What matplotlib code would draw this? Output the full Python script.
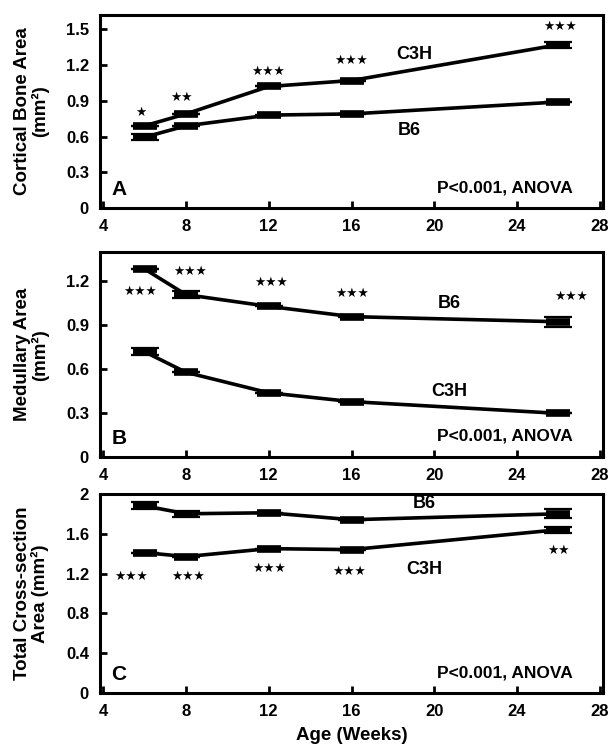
import numpy as np
import matplotlib.pyplot as plt

plt.rcParams['font.family'] = ['Liberation Sans', 'DejaVu Sans']
plt.rcParams['font.weight'] = 'bold'

weeks = [6, 8, 12, 16, 26]

# panel A - cortical bone area
a_c3h = [0.69, 0.79, 1.02, 1.07, 1.37]
a_c3h_err = [0.0, 0.0, 0.0, 0.0, 0.027]
a_b6 = [0.595, 0.69, 0.78, 0.79, 0.89]
a_b6_err = [0.027, 0.0, 0.0, 0.0, 0.0]
a_stars = ['★', '★★', '★★★', '★★★', '★★★']
a_star_x = [5.8, 7.8, 11.95, 16.0, 26.1]
a_star_y = [0.80, 0.93, 1.15, 1.24, 1.52]

# panel B - medullary area
b_b6 = [1.285, 1.11, 1.03, 0.96, 0.925]
b_b6_err = [0.0, 0.025, 0.0, 0.0, 0.035]
b_c3h = [0.72, 0.58, 0.44, 0.38, 0.30]
b_c3h_err = [0.025, 0.0, 0.0, 0.0, 0.0]
b_stars = ['★★★'] * 5
b_star_x = [5.8, 8.2, 12.1, 16.05, 26.6]
b_star_y = [1.13, 1.27, 1.19, 1.12, 1.10]

# panel C - total cross-section area
c_b6 = [1.88, 1.80, 1.81, 1.74, 1.80]
c_b6_err = [0.035, 0.03, 0.0, 0.0, 0.045]
c_c3h = [1.41, 1.37, 1.45, 1.44, 1.64]
c_c3h_err = [0.0, 0.0, 0.0, 0.0, 0.03]
c_stars = ['★★★', '★★★', '★★★', '★★★', '★★']
c_star_x = [5.35, 8.1, 12.0, 15.9, 26.0]
c_star_y = [1.17, 1.17, 1.25, 1.22, 1.43]

fig = plt.figure(figsize=(6.14, 7.46), dpi=100)
axA = fig.add_axes([0.163, 0.721, 0.819, 0.259])
axB = fig.add_axes([0.163, 0.387, 0.819, 0.275])
axC = fig.add_axes([0.163, 0.071, 0.819, 0.267])


def series(ax, y, err):
    ax.plot(weeks, y, color='black', lw=2.6, marker='_', ms=17, mew=5.5)
    ax.errorbar(weeks, y, yerr=err, fmt='none', ecolor='black', elinewidth=0,
                capsize=10, capthick=1.6)


def style(ax, ylim, yticks, ylabel, letter, ytl):
    ax.set_xlim(3.85, 28.15)
    ax.set_ylim(*ylim)
    ax.set_xticks([4, 8, 12, 16, 20, 24, 28])
    ax.set_yticks(yticks)
    ax.set_yticklabels(ytl)
    ax.tick_params(direction='in', length=5, width=2, labelsize=12, pad=8)
    for lab in ax.get_xticklabels() + ax.get_yticklabels():
        lab.set_fontweight('bold')
    for s in ax.spines.values():
        s.set_linewidth(2.2)
    ax.set_ylabel(ylabel, fontsize=13.5, fontweight='bold', labelpad=12,
                  linespacing=1.0)
    ax.text(0.022, 0.045, letter, transform=ax.transAxes, fontsize=15,
            fontweight='bold', va='bottom', ha='left')
    ax.text(0.94, 0.065, 'P<0.001, ANOVA', transform=ax.transAxes,
            fontsize=12.5, fontweight='bold', ha='right', va='bottom')


series(axA, a_c3h, a_c3h_err)
series(axA, a_b6, a_b6_err)
for s, x, y in zip(a_stars, a_star_x, a_star_y):
    axA.text(x, y, s, family='DejaVu Sans', fontsize=9, ha='center', va='center')
axA.text(19.05, 1.29, 'C3H', fontsize=13, fontweight='bold', ha='center', va='center')
axA.text(18.8, 0.65, 'B6', fontsize=13, fontweight='bold', ha='center', va='center')
style(axA, (0, 1.62), [0, 0.3, 0.6, 0.9, 1.2, 1.5], 'Cortical Bone Area\n(mm²)', 'A',
      ['0', '0.3', '0.6', '0.9', '1.2', '1.5'])

series(axB, b_b6, b_b6_err)
series(axB, b_c3h, b_c3h_err)
for s, x, y in zip(b_stars, b_star_x, b_star_y):
    axB.text(x, y, s, family='DejaVu Sans', fontsize=9, ha='center', va='center')
axB.text(20.7, 1.05, 'B6', fontsize=13, fontweight='bold', ha='center', va='center')
axB.text(20.7, 0.45, 'C3H', fontsize=13, fontweight='bold', ha='center', va='center')
style(axB, (0, 1.4), [0, 0.3, 0.6, 0.9, 1.2], 'Medullary Area\n(mm²)', 'B',
      ['0', '0.3', '0.6', '0.9', '1.2'])

series(axC, c_b6, c_b6_err)
series(axC, c_c3h, c_c3h_err)
for s, x, y in zip(c_stars, c_star_x, c_star_y):
    axC.text(x, y, s, family='DejaVu Sans', fontsize=9, ha='center', va='center')
axC.text(19.5, 1.90, 'B6', fontsize=13, fontweight='bold', ha='center', va='center')
axC.text(19.5, 1.24, 'C3H', fontsize=13, fontweight='bold', ha='center', va='center')
style(axC, (0, 2.0), [0, 0.4, 0.8, 1.2, 1.6, 2.0], 'Total Cross-section\nArea (mm²)', 'C',
      ['0', '0.4', '0.8', '1.2', '1.6', '2'])
axC.set_xlabel('Age (Weeks)', fontsize=13.5, fontweight='bold', labelpad=6)

fig.savefig('out.png', dpi=100)
